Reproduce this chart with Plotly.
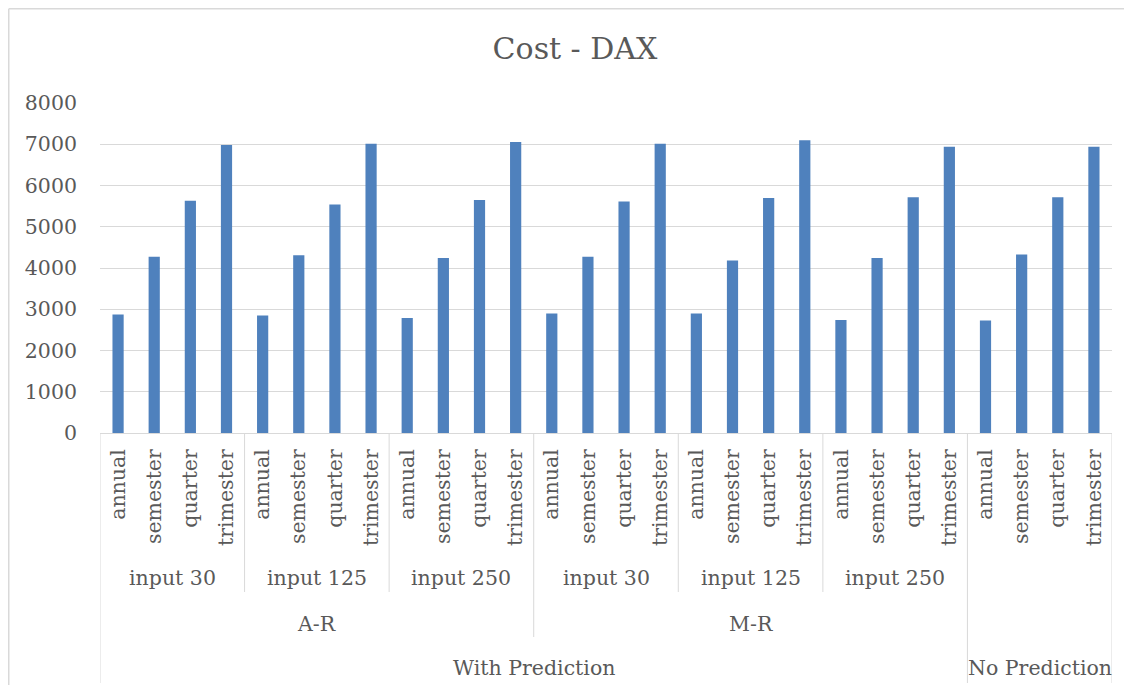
import plotly.graph_objects as go

# ---- data ----
periods = ["annual", "semester", "quarter", "trimester"]
inputs = ["input 30", "input 125", "input 250"]
methods = ["A-R", "M-R"]
predictions = ["With Prediction", "No Prediction"]

ar_input30 = [2870, 4275, 5630, 6980]
ar_input125 = [2850, 4310, 5540, 7010]
ar_input250 = [2790, 4240, 5650, 7055]
mr_input30 = [2900, 4275, 5615, 7015]
mr_input125 = [2900, 4180, 5700, 7100]
mr_input250 = [2740, 4240, 5715, 6940]
no_prediction = [2725, 4325, 5715, 6940]

# groups: (prediction, method, input, values)
groups = [
    (predictions[0], methods[0], inputs[0], ar_input30),
    (predictions[0], methods[0], inputs[1], ar_input125),
    (predictions[0], methods[0], inputs[2], ar_input250),
    (predictions[0], methods[1], inputs[0], mr_input30),
    (predictions[0], methods[1], inputs[1], mr_input125),
    (predictions[0], methods[1], inputs[2], mr_input250),
    (predictions[1], None, None, no_prediction),
]

x_idx, y_vals, tick_text, rows = [], [], [], []
for pred, meth, inp, vals in groups:
    for p, v in zip(periods, vals):
        rows.append((pred, meth, inp))
        x_idx.append(len(x_idx))
        y_vals.append(v)
        tick_text.append(p)

N = len(x_idx)

# ---- layout geometry (page has an 8px body margin on every side) ----
OFF = 8
W, H = 1132 - 2 * OFF, 693 - 2 * OFF
PLOT_L, PLOT_R, PLOT_T, PLOT_B = 100, 1112, 103, 433   # page pixels
ML, MT = PLOT_L - OFF, PLOT_T - OFF
MR = W - (PLOT_R - OFF)
MB = H - (PLOT_B - OFF)
PH = PLOT_B - PLOT_T
PW = PLOT_R - PLOT_L
GRID = "#d9d9d9"
TXT = "#595959"
FONT = "DejaVu Serif"
FS = 20.5


def py(page_y):
    """page pixel y -> paper y"""
    return (PLOT_B - page_y) / PH


def px(page_x):
    """page pixel x -> paper x"""
    return (page_x - PLOT_L) / PW


fig = go.Figure(go.Bar(
    x=x_idx, y=y_vals, marker=dict(color="#4f81bd", line=dict(width=0)),
    hoverinfo="x+y",
))

shapes = []
annotations = []


def spans(level):
    out = []
    start = 0
    for i in range(1, N + 1):
        if i == N or rows[i][:level + 1] != rows[start][:level + 1]:
            out.append((start, i - 1, rows[start][level]))
            start = i
    return out


level_y = {2: 578, 1: 624, 0: 668}
level_bottom = {2: 592, 1: 637, 0: 683}

# labels for upper levels
for lev in (2, 1, 0):
    for s, e, lab in spans(lev):
        if lab is None:
            continue
        annotations.append(dict(
            x=(s + e) / 2, y=py(level_y[lev]), xref="x", yref="paper",
            text=lab, showarrow=False, xanchor="center", yanchor="middle",
            font=dict(family=FONT, size=FS, color=TXT)))

# divider lines
bottoms = {}
for lev in (2, 1, 0):
    for s, e, lab in spans(lev):
        for b in (s - 0.5, e + 0.5):
            bottoms[b] = max(bottoms.get(b, 0), level_bottom[lev])
for b in (-0.5, N - 0.5):
    bottoms[b] = level_bottom[0]
for b, bot in bottoms.items():
    shapes.append(dict(type="line", xref="x", yref="paper", x0=b, x1=b,
                       y0=0, y1=py(bot), line=dict(color=GRID, width=1)))

# outer chart border (only left and top edges are inside the picture)
border = dict(color=GRID, width=1.5)
shapes.append(dict(type="line", xref="paper", yref="paper",
                   x0=px(OFF + 0.75), x1=px(OFF + 0.75),
                   y0=py(700), y1=py(OFF + 0.75), line=border, layer="below"))
shapes.append(dict(type="line", xref="paper", yref="paper",
                   x0=px(OFF + 0.75), x1=px(1140),
                   y0=py(OFF + 0.75), y1=py(OFF + 0.75), line=border, layer="below"))

fig.update_layout(
    width=W, height=H,
    margin=dict(l=ML, r=MR, t=MT, b=MB, pad=0),
    paper_bgcolor="white", plot_bgcolor="white",
    bargap=0.69,
    showlegend=False,
    title=dict(text="Cost - DAX", x=(575 - OFF) / W, xanchor="center",
               y=1 - (48 - OFF) / H, yanchor="middle", yref="container",
               font=dict(family=FONT, size=30, color=TXT)),
    xaxis=dict(range=[-0.5, N - 0.5], tickmode="array", tickvals=x_idx,
               ticktext=tick_text, tickangle=-90, showgrid=False,
               showline=True, linecolor=GRID, linewidth=1, ticks="",
               ticklabelstandoff=7,
               tickfont=dict(family=FONT, size=FS, color=TXT), zeroline=False),
    yaxis=dict(range=[0, 8000], dtick=1000, showgrid=True, gridcolor=GRID,
               gridwidth=1, zeroline=False, showline=False, ticks="",
               ticklabelstandoff=22,
               tickfont=dict(family=FONT, size=FS, color=TXT)),
    shapes=shapes, annotations=annotations,
)

fig.write_html("out.html")
